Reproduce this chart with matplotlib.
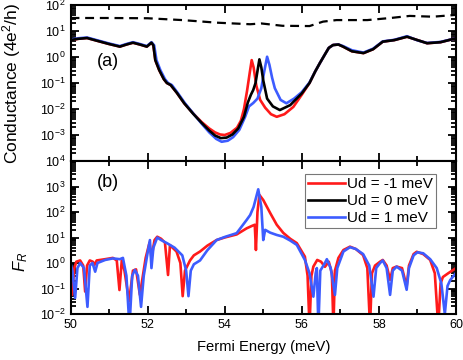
import numpy as np
import matplotlib
matplotlib.use("Agg")
import matplotlib.pyplot as plt
from matplotlib.ticker import FixedLocator, FixedFormatter, LogLocator, NullFormatter, MultipleLocator

plt.rcParams['font.family'] = ['Liberation Sans', 'DejaVu Sans']
plt.rcParams['mathtext.fontset'] = 'custom'
plt.rcParams['mathtext.rm'] = 'Liberation Sans'
plt.rcParams['mathtext.it'] = 'Liberation Sans:italic'
plt.rcParams['mathtext.default'] = 'regular'

# ---------------- Data (panel a: conductance, log10 values) ----------------
dash_E = [50, 51, 52, 52.9, 53.8, 54.66, 54.95, 55.5, 56.2, 56.55, 56.9, 57.7, 58.3, 58.8, 59.4, 60.0]
dash_logG = [1.50, 1.50, 1.49, 1.42, 1.32, 1.26, 1.29, 1.20, 1.19, 1.36, 1.42, 1.42, 1.50, 1.58, 1.55, 1.62]

a_red_E = [50.0, 50.2, 50.43, 50.7, 51.0, 51.28, 51.45, 51.62, 51.8, 51.98, 52.1, 52.15, 52.2, 52.3,
           52.42, 52.5, 52.6, 52.76, 52.95, 53.18, 53.4, 53.6, 53.75, 53.88, 54.0, 54.15, 54.32, 54.42,
           54.5, 54.58, 54.65, 54.70, 54.75, 54.82, 54.92, 55.05, 55.2, 55.35, 55.55, 55.78, 56.0,
           56.2, 56.35, 56.47, 56.6, 56.7, 56.81, 56.95, 57.07, 57.3, 57.6, 57.85, 58.1, 58.4,
           58.73, 59.0, 59.25, 59.6, 60.0]
a_red_logG = [0.65, 0.70, 0.73, 0.62, 0.50, 0.40, 0.48, 0.55, 0.48, 0.40, 0.55, 0.45, -0.12, -0.5,
              -0.85, -1.0, -1.08, -1.38, -1.78, -2.17, -2.5, -2.75, -2.9, -2.98, -3.0, -2.92, -2.72, -2.45,
              -2.0, -1.3, -0.6, -0.12, -0.4, -1.1, -1.65, -1.95, -2.2, -2.30, -2.2, -1.92, -1.45,
              -1.0, -0.55, -0.23, 0.1, 0.35, 0.46, 0.48, 0.40, 0.22, 0.15, 0.30, 0.59, 0.65,
              0.78, 0.65, 0.53, 0.57, 0.72]

a_black_E = [50.0, 50.2, 50.43, 50.7, 51.0, 51.28, 51.45, 51.62, 51.8, 51.98, 52.1, 52.15, 52.2, 52.3,
             52.42, 52.5, 52.6, 52.76, 52.95, 53.18, 53.4, 53.6, 53.75, 53.9, 54.05, 54.2, 54.35, 54.5,
             54.6, 54.68, 54.74, 54.8, 54.86, 54.90, 54.95, 55.0, 55.1, 55.25, 55.43, 55.7, 56.0,
             56.2, 56.35, 56.47, 56.6, 56.7, 56.81, 56.95, 57.07, 57.3, 57.6, 57.85, 58.1, 58.4,
             58.73, 59.0, 59.25, 59.6, 60.0]
a_black_logG = [0.65, 0.70, 0.73, 0.62, 0.50, 0.40, 0.48, 0.55, 0.48, 0.40, 0.55, 0.45, -0.12, -0.5,
                -0.85, -1.0, -1.08, -1.38, -1.78, -2.18, -2.53, -2.83, -3.02, -3.12, -3.1, -2.98, -2.75, -2.3,
                -1.75, -1.45, -1.27, -1.0, -0.45, -0.09, -0.4, -0.9, -1.6, -1.9, -2.04, -1.85, -1.4,
                -1.0, -0.55, -0.23, 0.1, 0.35, 0.46, 0.48, 0.40, 0.22, 0.15, 0.30, 0.59, 0.65,
                0.78, 0.65, 0.53, 0.57, 0.72]

a_blue_E = [50.0, 50.2, 50.43, 50.7, 51.0, 51.28, 51.45, 51.62, 51.8, 51.98, 52.1, 52.17, 52.23, 52.33,
            52.45, 52.53, 52.63, 52.78, 52.97, 53.2, 53.4, 53.6, 53.78, 53.92, 54.08, 54.22, 54.38, 54.53,
            54.63, 54.74, 54.85, 54.95, 55.02, 55.1, 55.16, 55.23, 55.3, 55.45, 55.6, 55.8, 56.0,
            56.2, 56.35, 56.47, 56.6, 56.7, 56.81, 56.95, 57.07, 57.3, 57.6, 57.85, 58.1, 58.4,
            58.73, 59.0, 59.25, 59.6, 60.0]
a_blue_logG = [0.67, 0.72, 0.75, 0.64, 0.52, 0.42, 0.50, 0.57, 0.50, 0.42, 0.57, 0.45, -0.12, -0.5,
               -0.85, -1.0, -1.08, -1.38, -1.78, -2.2, -2.56, -2.9, -3.15, -3.26, -3.22, -3.08, -2.8, -2.3,
               -1.9, -1.77, -1.6, -1.2, -0.6, 0.01, -0.3, -0.8, -1.2, -1.65, -1.78, -1.6, -1.35,
               -0.98, -0.55, -0.23, 0.1, 0.35, 0.46, 0.48, 0.42, 0.26, 0.17, 0.32, 0.60, 0.66,
               0.80, 0.64, 0.54, 0.58, 0.72]

# ---------------- Data (panel b: F_R, log10 values) ----------------
b_red_E = [50.0, 50.04, 50.10, 50.15, 50.25, 50.33, 50.38, 50.43, 50.50, 50.58, 50.62, 50.68, 50.9,
           51.1, 51.2, 51.27, 51.33, 51.40, 51.52, 51.62, 51.70, 51.80, 51.95, 52.05, 52.10, 52.18,
           52.25, 52.35, 52.45, 52.53, 52.58, 52.75, 52.85, 52.91, 52.97, 53.1, 53.2, 53.36, 53.55,
           53.79, 54.0, 54.31, 54.57, 54.7, 54.78, 54.81, 54.85, 54.9, 55.0, 55.18, 55.35, 55.52,
           55.7, 55.87, 56.08, 56.15, 56.2, 56.25, 56.3, 56.4, 56.5, 56.6, 56.7, 56.78, 56.82,
           56.86, 56.95, 57.08, 57.25, 57.4, 57.59, 57.7, 57.77, 57.82, 57.9, 58.03, 58.1, 58.2,
           58.29, 58.36, 58.46, 58.6, 58.72, 58.78, 58.9, 58.98, 59.15, 59.33, 59.45, 59.54, 59.6,
           59.66, 59.8, 59.9, 60.0]
b_red_logF = [0.0, -1.25, -0.2, 0.05, 0.1, -0.1, -1.12, -0.1, 0.1, 0.05, -0.08, 0.1, 0.15,
              0.2, 0.1, -1.06, 0.1, -0.3, -1.5, -0.3, -0.25, -1.25, 0.2, 0.8, 0.2, 0.9,
              1.03, 0.95, 0.8, -0.47, 0.7, 0.45, 0.0, -1.3, -0.3, 0.1, 0.3, 0.45, 0.68,
              0.9, 1.0, 1.12, 1.36, 1.45, 1.5, 0.51, 2.0, 2.67, 2.47, 1.96, 1.5, 1.18,
              0.95, 0.78, 0.25, -0.5, -2.5, -0.5, -0.14, 0.12, 0.05, -0.15, 0.05, -0.4, -2.5,
              -0.3, 0.2, 0.51, 0.64, 0.55, 0.31, -0.2, -2.5, -0.4, -0.1, 0.05, 0.12, -0.1,
              -0.66, -0.2, -0.14, -0.2, -0.92, -0.1, 0.35, 0.44, 0.35, 0.12, -0.4, -2.5, -0.8,
              -0.55, -0.4, -0.3, -0.2]

b_blue_E = [50.0, 50.05, 50.12, 50.18, 50.25, 50.35, 50.44, 50.50, 50.57, 50.64, 50.70, 50.9, 51.1,
            51.28, 51.36, 51.45, 51.53, 51.60, 51.67, 51.75, 51.83, 51.9, 52.0, 52.06, 52.1, 52.15,
            52.25, 52.35, 52.5, 52.7, 52.9, 53.0, 53.06, 53.12, 53.2, 53.36, 53.55, 53.79, 54.0,
            54.31, 54.57, 54.66, 54.75, 54.87, 54.95, 55.0, 55.05, 55.18, 55.35, 55.52, 55.7, 55.87,
            56.08, 56.2, 56.3, 56.36, 56.39, 56.43, 56.48, 56.6, 56.65, 56.75, 56.86, 56.92, 57.08,
            57.25, 57.4, 57.59, 57.75, 57.86, 57.93, 58.03, 58.1, 58.2, 58.29, 58.36, 58.46, 58.6,
            58.72, 58.78, 58.9, 59.0, 59.15, 59.33, 59.5, 59.62, 59.71, 59.78, 59.85, 60.0]
b_blue_logF = [0.0, -0.3, -1.37, -0.2, 0.0, -0.2, -1.72, -0.1, 0.0, -0.34, 0.0, 0.12, 0.18,
               0.15, 0.2, -0.5, -2.5, -0.5, -0.27, -0.5, -1.72, -0.5, 0.4, 0.9, -0.2, 0.6,
               1.0, 0.9, 0.78, 0.6, 0.3, -0.3, -1.3, -0.3, -0.05, 0.1, 0.5, 0.9, 1.02,
               1.17, 1.69, 1.88, 2.2, 2.89, 2.2, 0.9, 1.3, 1.19, 1.1, 1.03, 0.88, 0.71,
               0.12, -0.4, -1.32, -0.4, -0.2, -2.5, -0.3, 0.0, 0.15, -0.2, -1.25, -0.2, 0.45,
               0.62, 0.55, 0.35, -0.1, -1.32, -0.2, 0.0, 0.1, -0.2, -1.25, -0.3, -0.14, -0.3,
               -1.05, -0.2, 0.3, 0.42, 0.38, 0.15, -0.2, -0.8, -2.0, -0.9, -0.67, -0.39]

labels = ['Ud = -1 meV', 'Ud = 0 meV', 'Ud = 1 meV']
RED = '#ff1a1a'
BLACK = '#000000'
BLUE = '#3d5cff'

top_yticks = [1e2, 1e1, 1e0, 1e-1, 1e-2, 1e-3, 1e-4]
top_yticklabels = [r'$10^{2}$', r'$10^{1}$', r'$10^{0}$', r'$10^{-1}$', r'$10^{-2}$', r'$10^{-3}$', r'$10^{4}$']
bot_yticks = [1e-2, 1e-1, 1e0, 1e1, 1e2, 1e3, 1e4]
bot_yticklabels = [r'$10^{-2}$', r'$10^{-1}$', r'$10^{0}$', r'$10^{1}$', r'$10^{2}$', r'$10^{3}$', '']

fig = plt.figure(figsize=(4.63, 3.6), dpi=100)
W, H = 463, 360
left = 70.5 / W
width = (456 - 70.5) / W
ax1 = fig.add_axes([left, 1 - 161 / H, width, 156 / H])
ax2 = fig.add_axes([left, 1 - 314 / H, width, 153 / H], sharex=ax1)

lw = 1.9
ax1.plot(dash_E, 10 ** np.array(dash_logG), color='black', lw=1.6, ls=(0, (4, 2.6)))
l_red, = ax1.plot(a_red_E, 10 ** np.array(a_red_logG), color=RED, lw=lw, label=labels[0])
l_blue, = ax1.plot(a_blue_E, 10 ** np.array(a_blue_logG), color=BLUE, lw=lw, label=labels[2])
l_black, = ax1.plot(a_black_E, 10 ** np.array(a_black_logG), color=BLACK, lw=lw, label=labels[1])

ax2.plot(b_red_E, 10 ** np.array(b_red_logF), color=RED, lw=lw)
ax2.plot(b_blue_E, 10 ** np.array(b_blue_logF), color=BLUE, lw=lw)

for ax in (ax1, ax2):
    ax.set_yscale('log')
    ax.set_xlim(50, 60)
    ax.xaxis.set_major_locator(MultipleLocator(2))
    ax.xaxis.set_minor_locator(MultipleLocator(1))
    ax.tick_params(which='both', direction='in', top=True, right=True, labelsize=9,
                   width=1.3, colors='black')
    ax.tick_params(which='major', length=6)
    ax.tick_params(which='minor', length=3.5)
    ax.yaxis.set_minor_locator(LogLocator(base=10, subs=np.arange(2, 10)))
    ax.yaxis.set_minor_formatter(NullFormatter())
    for s in ax.spines.values():
        s.set_linewidth(1.5)

ax1.set_ylim(1e-4, 1e2)
ax1.yaxis.set_major_locator(FixedLocator(top_yticks))
ax1.yaxis.set_major_formatter(FixedFormatter(top_yticklabels))
ax1.tick_params(axis='x', labelbottom=False)

ax2.set_ylim(1e-2, 1e4)
ax2.yaxis.set_major_locator(FixedLocator(bot_yticks))
ax2.yaxis.set_major_formatter(FixedFormatter(bot_yticklabels))
ax2.set_xticks([50, 52, 54, 56, 58, 60])
ax2.set_xticklabels(['50', '52', '54', '56', '58', '60'])

ax1.text(0.097, 0.64, '(a)', transform=ax1.transAxes, fontsize=13, ha='center', va='center')
ax2.text(0.097, 0.86, '(b)', transform=ax2.transAxes, fontsize=13, ha='center', va='center')

fig.text(12 / W, 1 - 84 / H, r'Conductance (4e$^{2}$/h)', rotation=90, ha='center', va='center', fontsize=12.5)
fig.text(21 / W, 1 - 262 / H, r'$\mathit{F}_{\mathit{R}}$', rotation=90, ha='center', va='center', fontsize=12)
fig.text(264 / W, 1 - 347 / H, 'Fermi Energy (meV)', ha='center', va='center', fontsize=10.6)

leg = ax2.legend([l_red, l_black, l_blue], labels, loc='upper right',
                 bbox_to_anchor=(0.948, 0.915), fontsize=11, frameon=True, fancybox=False,
                 handlelength=2.4, handletextpad=0.15, borderpad=0.2, labelspacing=0.2,
                 borderaxespad=0)
leg.get_frame().set_edgecolor('#555555')
leg.get_frame().set_linewidth(0.8)

fig.savefig('out.png', dpi=100)
